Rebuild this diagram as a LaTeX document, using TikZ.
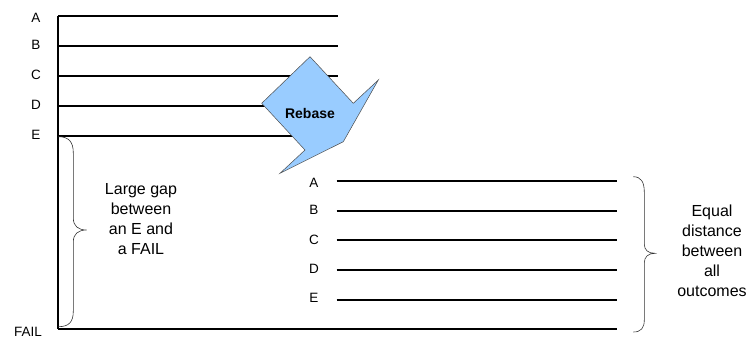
\documentclass[tikz,border=0pt]{standalone}
\usepackage{fontspec}
\setmainfont{Liberation Sans}
\begin{document}
\begin{tikzpicture}[x=1pt,y=-1pt,
  outcome/.style={line width=1.7pt},
  lbl/.style={font=\fontsize{13.5}{20}\selectfont, inner sep=0pt},
  note/.style={font=\fontsize{16}{20}\selectfont, align=center, inner sep=0pt},
  bracestroke/.style={line width=0.6pt, draw=black!80},
  rebase/.style={draw=black!70, line width=0.5pt, line join=miter}]
\useasboundingbox (0,0) rectangle (748,338);
\definecolor{rebblue}{HTML}{99CCFF}
% top-left axis
\coordinate (top) at (58.3,15.7);
\coordinate (bot) at (58.3,329);
\draw[outcome] (top) -- (bot);
\foreach \n/\y in {A/15.7,B/45.7,C/75.7,D/105.7,E/135.7}{
  \coordinate (L\n s) at (58.3,\y);
  \coordinate (L\n e) at (338,\y);
  \draw[outcome] (L\n s) -- (L\n e);
}
\node[lbl] (la) at (36,17.5) {A};
\node[lbl] (lb) at (36,45) {B};
\node[lbl] (lc) at (36,75) {C};
\node[lbl] (ld) at (36,105) {D};
\node[lbl] (le) at (36,135) {E};
\node[lbl] (lfail) at (28,331.5) {FAIL};
% bottom line
\coordinate (failend) at (616.7,329);
\draw[outcome] (bot) -- (failend);
% right outcomes
\foreach \n/\y in {A/180.7,B/210.7,C/240,D/269.7,E/300}{
  \coordinate (R\n s) at (336.7,\y);
  \coordinate (R\n e) at (616.7,\y);
  \draw[outcome] (R\n s) -- (R\n e);
}
\node[lbl] (ra) at (314,182.5) {A};
\node[lbl] (rb) at (314,210) {B};
\node[lbl] (rc) at (314,240) {C};
\node[lbl] (rd) at (314,269) {D};
\node[lbl] (re) at (314,298) {E};
% left brace
\draw[bracestroke] (58.3,136.7) .. controls (69,136.7) and (73.3,142) .. (73.3,153)
  -- (73.3,218) .. controls (73.3,226) and (78,230) .. (86.7,230)
  .. controls (78,230) and (73.3,234) .. (73.3,242)
  -- (73.3,311) .. controls (73.3,322) and (69,326.7) .. (58.3,326.7);
\node[note] (gap) at (141,219.5) {Large gap\\between\\an E and\\a FAIL};
% right brace
\draw[bracestroke] (633.3,176.7) .. controls (641,176.7) and (644.3,182) .. (644.3,192)
  -- (644.3,244) .. controls (644.3,250) and (648,253.3) .. (655,253.3)
  .. controls (648,253.3) and (644.3,257) .. (644.3,263)
  -- (644.3,320) .. controls (644.3,328) and (641,332) .. (633.3,332);
\node[note] (equal) at (712,251) {Equal\\distance\\between\\all\\outcomes};
% rebase arrow
\draw[rebase, fill=rebblue] (310,56.7) -- (353.3,103.3) -- (378.3,80)
  -- (343.3,141.7) -- (280,173.3) -- (305,150) -- (261.7,103.3) -- cycle;
\node[font=\fontsize{14}{16}\selectfont\bfseries, inner sep=0pt] (rebasetext) at (310,113.3) {Rebase};
\end{tikzpicture}
\end{document}
